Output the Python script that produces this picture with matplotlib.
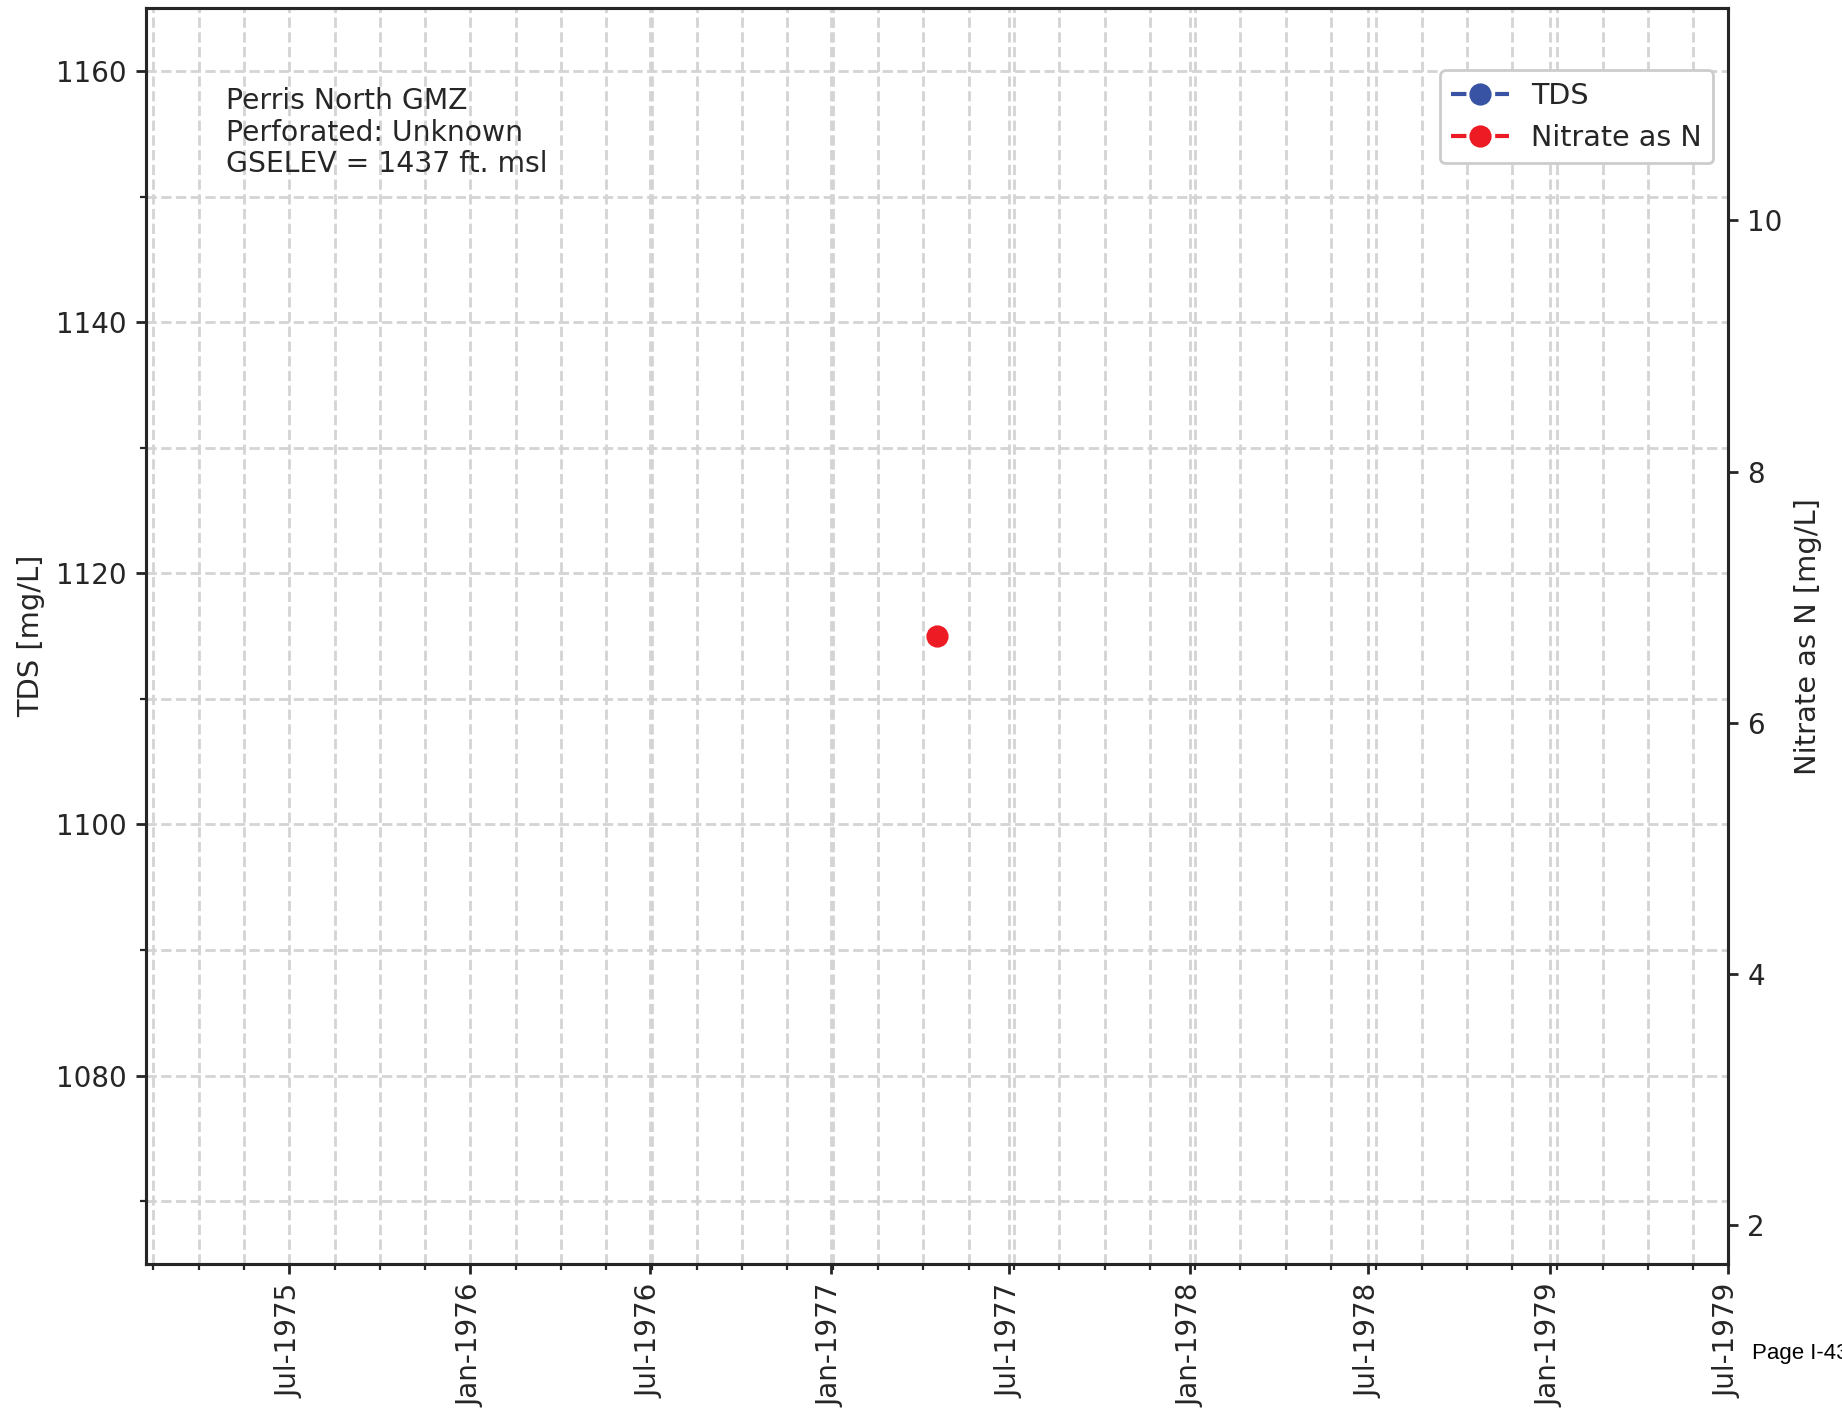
import datetime as dt
import matplotlib
matplotlib.use("Agg")
import matplotlib.pyplot as plt
import matplotlib.dates as mdates
from matplotlib.ticker import AutoMinorLocator

# data (single nitrate sample, no TDS samples)
tds_dates = []
tds_values = []
no3_dates = [dt.datetime(1977, 4, 19)]
no3_values = [6.69]

well_info = ["Perris North GMZ", "Perforated: Unknown", "GSELEV = 1437 ft. msl"]

tds_color = "#3953a4"
no3_color = "#ed1c24"
txt = "#262626"

plt.rcParams.update({
    "font.family": "DejaVu Sans",
    "font.size": 10,
    "text.color": txt,
    "axes.labelcolor": txt,
    "xtick.color": txt,
    "ytick.color": txt,
    "axes.edgecolor": txt,
    "axes.linewidth": 1.1,
    "xtick.major.width": 1.0,
    "ytick.major.width": 1.0,
    "xtick.minor.width": 0.8,
    "ytick.minor.width": 0.8,
    "xtick.major.size": 3.5,
    "ytick.major.size": 3.5,
    "xtick.minor.size": 2,
    "ytick.minor.size": 2,
})

fig = plt.figure(figsize=(9.21, 7.055), dpi=200)
ax1 = fig.add_axes([0.0795, 0.1042, 0.8585, 0.89])
ax2 = ax1.twinx()

l1, = ax1.plot(tds_dates, tds_values, "--o", color=tds_color, ms=7, lw=1.5, label="TDS")
l2, = ax2.plot(no3_dates, no3_values, "--o", color=no3_color, ms=7, lw=1.5, label="Nitrate as N")

center = no3_dates[0]
span = dt.timedelta(days=803)
ax1.set_xlim(center - span, center + span)
ax1.set_ylim(1065, 1165)
ax2.set_ylim(no3_values[0] - 5, no3_values[0] + 5)

ax1.xaxis.set_major_locator(mdates.MonthLocator(bymonth=[1, 7]))
ax1.xaxis.set_major_formatter(mdates.DateFormatter("%b-%Y"))
ax1.xaxis.set_minor_locator(AutoMinorLocator())
ax1.yaxis.set_minor_locator(AutoMinorLocator(2))
for lab in ax1.get_xticklabels():
    lab.set_rotation(90)

ax1.grid(which="both", ls="--", color="#d4d4d4", lw=1.0)
ax1.set_axisbelow(True)

ax1.set_ylabel("TDS [mg/L]", fontsize=10.4)
ax2.set_ylabel("Nitrate as N [mg/L]", fontsize=10.4)

ax1.text(0.05, 0.937, "\n".join(well_info), transform=ax1.transAxes,
         va="top", ha="left", fontsize=10.2, linespacing=1.15)

ax2.legend(handles=[l1, l2], loc="upper right", bbox_to_anchor=(1, 0.962),
           fontsize=10.3, framealpha=1, edgecolor="#cccccc", fancybox=True)

fig.text(0.951, 0.0404, "Page I-43", fontsize=8, va="center", ha="left",
         family=["Liberation Sans Narrow", "Liberation Sans"], color="black")

fig.savefig("out.png", dpi=200)
